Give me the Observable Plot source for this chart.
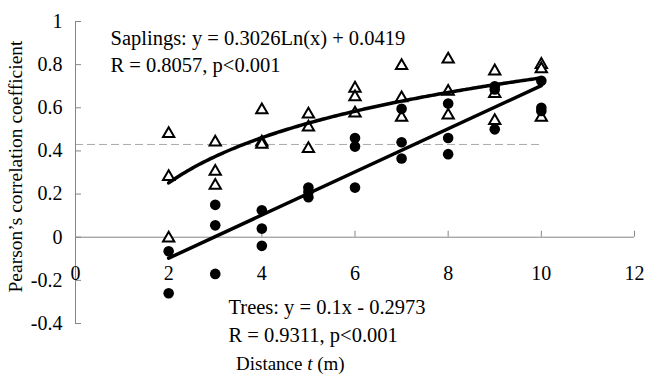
<!DOCTYPE html>
<html><head><meta charset="utf-8">
<script src="https://cdn.jsdelivr.net/npm/d3@7"></script>
<script src="https://cdn.jsdelivr.net/npm/@observablehq/plot@0.6"></script>
<style>html,body{margin:0;padding:0;background:#fff;}</style>
</head><body><div id="chart"></div>
<script>
const distances = [2, 3, 4, 5, 6, 7, 8, 9, 10];
const saplingValues = [
  [0.48, 0.28, -0.005],
  [0.44, 0.305, 0.24],
  [0.59, 0.44, 0.43],
  [0.57, 0.51, 0.41],
  [0.69, 0.65, 0.575],
  [0.795, 0.645, 0.555],
  [0.825, 0.675, 0.565],
  [0.77, 0.665, 0.54],
  [0.80, 0.78, 0.555]
];
const treeValues = [
  [-0.065, -0.26],
  [0.15, 0.055, -0.17],
  [0.125, 0.04, -0.04],
  [0.23, 0.21, 0.185],
  [0.46, 0.42, 0.23],
  [0.595, 0.44, 0.365],
  [0.62, 0.46, 0.385],
  [0.70, 0.685, 0.50],
  [0.725, 0.60, 0.585]
];
const saplingFit = {slope: 0.3026, intercept: 0.0419};
const treeFit = {slope: 0.1, intercept: -0.2973};
const fitRange = [2, 10];
const saplingLabel = ["Saplings: y = 0.3026Ln(x) + 0.0419", "R = 0.8057, p<0.001"];
const treeLabel = ["Trees: y = 0.1x - 0.2973", "R = 0.9311, p<0.001"];
const thresholdValue = 0.43;
const thresholdRange = [0, 10];
const xTicks = [0, 2, 4, 6, 8, 10, 12];
const xTickLabels = ["0", "2", "4", "6", "8", "10", "12"];
const yTicks = [-0.4, -0.2, 0, 0.2, 0.4, 0.6, 0.8, 1];
const yTickLabels = ["-0.4", "-0.2", "0", "0.2", "0.4", "0.6", "0.8", "1"];
const yTitle = "Pearson\u2019s correlation coefficient";
const xTitleParts = ["Distance ", "t", " (m)"];

const saplingRows = distances.flatMap((d, i) => saplingValues[i].map(v => ({x: d, y: v})));
const treeRows = distances.flatMap((d, i) => treeValues[i].map(v => ({x: d, y: v})));
const fitX = d3.range(fitRange[0], fitRange[1] + 1e-9, 0.05);
const saplingCurve = fitX.map(x => ({x, y: saplingFit.slope * Math.log(x) + saplingFit.intercept}));
const treeLine = fitRange.map(x => ({x, y: treeFit.slope * x + treeFit.intercept}));

const axisColor = "#868686";
const font = "'Liberation Serif', 'Times New Roman', serif";

const plot = Plot.plot({
  width: 647, height: 375,
  marginLeft: 75, marginRight: 13, marginTop: 21, marginBottom: 52,
  style: {fontFamily: font, fontSize: "20px", background: "#fff", color: "#000"},
  x: {domain: [0, 12]},
  y: {domain: [-0.4, 1]},
  marks: [
    Plot.ruleY([thresholdValue], {x1: thresholdRange[0], x2: thresholdRange[1], stroke: "#aaaaaa", strokeWidth: 1, strokeDasharray: "8,4"}),
    Plot.ruleX([0], {y1: yTicks[0], y2: yTicks[yTicks.length - 1], stroke: axisColor}),
    Plot.ruleY([0], {x1: xTicks[0], x2: xTicks[xTicks.length - 1], stroke: axisColor}),
    Plot.ruleY(yTicks, {y: d => d, x1: 0, x2: 0, insetRight: -6, stroke: axisColor}),
    Plot.ruleX(xTicks, {x: d => d, y1: 0, y2: 0, insetTop: -6, stroke: axisColor}),
    Plot.axisY({ticks: yTicks, tickSize: 0, tickPadding: 13, tickFormat: (d) => yTickLabels[yTicks.indexOf(d)], label: null, fontSize: 20}),
    Plot.text([yTitle], {frameAnchor: "left", rotate: -90, textAnchor: "middle", dx: -60, dy: -6, fontSize: 19.5}),
    Plot.axisX({ticks: xTicks, tickSize: 0, tickFormat: (d) => xTickLabels[xTicks.indexOf(d)], label: null, dy: -67, fontSize: 20}),
    Plot.dot(saplingRows, {x: "x", y: "y", symbol: "triangle", r: 4.2, fill: "white", stroke: "black", strokeWidth: 2}),
    Plot.dot(treeRows, {x: "x", y: "y", r: 5.3, fill: "black", stroke: "none"}),
    Plot.line(saplingCurve, {x: "x", y: "y", stroke: "black", strokeWidth: 3.5}),
    Plot.line(treeLine, {x: "x", y: "y", stroke: "black", strokeWidth: 3.5}),
    Plot.text([saplingLabel.join("\n")], {frameAnchor: "top-left", textAnchor: "start", lineAnchor: "top", dx: 35, dy: 4, lineHeight: 1.32, fontSize: 20.5}),
    Plot.text([treeLabel.join("\n")], {frameAnchor: "top-left", textAnchor: "start", lineAnchor: "top", dx: 153, dy: 273, lineHeight: 1.35, fontSize: 20.5})
  ]
});

const svg = d3.select(plot);
const t = svg.append("text")
  .attr("x", 236).attr("y", 370)
  .attr("text-anchor", "start")
  .attr("font-family", font).attr("font-size", 19).attr("fill", "#000");
t.append("tspan").text(xTitleParts[0]);
t.append("tspan").attr("font-style", "italic").text(xTitleParts[1]);
t.append("tspan").text(xTitleParts[2]);

document.getElementById("chart").appendChild(plot);
</script>
</body></html>
